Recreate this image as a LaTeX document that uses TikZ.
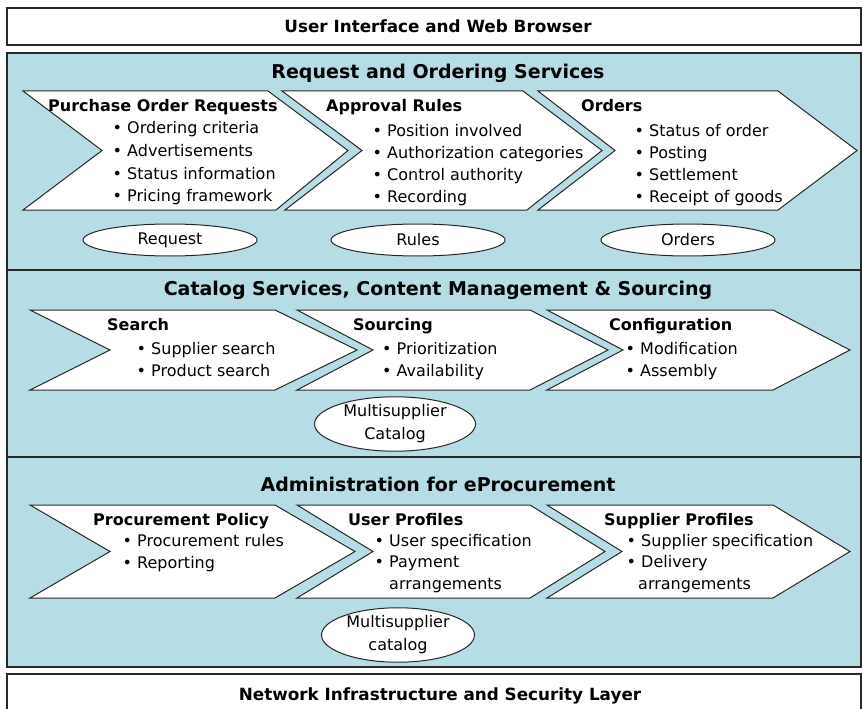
\documentclass[tikz,border=0pt]{standalone}
\usepackage{fontspec}
\setmainfont{DejaVu Sans}
\usepackage{xcolor}
\usepackage{tikz}
\usetikzlibrary{shapes.geometric}
\definecolor{panelblue}{RGB}{182,220,229}
\definecolor{linegray}{RGB}{40,40,40}

\begin{document}
\begin{tikzpicture}[x=1pt, y=-1pt,
	layer/.style={draw=linegray, line width=1.3pt},
	chev/.style={draw=linegray, fill=white, line width=1pt, line join=miter},
	bartitle/.style={anchor=base, inner sep=0pt, font=\fontsize{16.8}{18}\selectfont\bfseries},
	paneltitle/.style={anchor=base, inner sep=0pt, font=\fontsize{19}{22}\selectfont\bfseries},
	head/.style={anchor=base west, inner sep=0pt, font=\fontsize{16}{18}\selectfont\bfseries},
	item/.style={anchor=base west, inner sep=0pt, font=\fontsize{16}{18}\selectfont},
	store/.style={ellipse, draw=linegray, fill=white, line width=1pt, inner sep=0pt, align=center, font=\fontsize{16}{23}\selectfont}]
	\useasboundingbox (0,0) rectangle (863,709);
	% layers
	\draw[layer, fill=white] (7,8) rectangle (861,45);
	\draw[layer, fill=panelblue] (7,53) rectangle (861,270);
	\draw[layer, fill=panelblue] (7,270) rectangle (861,457);
	\draw[layer, fill=panelblue] (7,457) rectangle (861,667);
	\draw[layer, fill=white] (7,674) rectangle (861,714);
	\node[bartitle] (uibar) at (438,33) {User Interface and Web Browser};
	\node[bartitle] (netbar) at (440,700) {Network Infrastructure and Security Layer};
	\node[paneltitle] (ordtitle) at (438,78) {Request and Ordering Services};
	\node[paneltitle] (cattitle) at (438,295) {Catalog Services, Content Management \& Sourcing};
	\node[paneltitle] (admtitle) at (438,491) {Administration for eProcurement};

	% request and ordering
	\draw[chev] (23,91) -- (268,91) -- (348,150.5) -- (276,210) -- (23,210) -- (102,150.5) -- cycle;
	\draw[chev] (282,91) -- (523,91) -- (602,150.5) -- (527,210) -- (285,210) -- (362,150.5) -- cycle;
	\draw[chev] (538,91) -- (778,91) -- (857,150.5) -- (778,210) -- (538,210) -- (615,150.5) -- cycle;
	\node[head] (porhead) at (48,111.5) {Purchase Order Requests};
	\node[item] (por1) at (112.5,134) {\textbullet\ Ordering criteria};
	\node[item] (por2) at (112.5,156.5) {\textbullet\ Advertisements};
	\node[item] (por3) at (112.5,179) {\textbullet\ Status information};
	\node[item] (por4) at (112.5,201) {\textbullet\ Pricing framework};
	\node[head] (aprhead) at (326,111.5) {Approval Rules};
	\node[item] (apr1) at (372.5,136) {\textbullet\ Position involved};
	\node[item] (apr2) at (372.5,158) {\textbullet\ Authorization categories};
	\node[item] (apr3) at (372.5,180) {\textbullet\ Control authority};
	\node[item] (apr4) at (372.5,202) {\textbullet\ Recording};
	\node[head] (ordhead) at (581,111.5) {Orders};
	\node[item] (ord1) at (634.5,136) {\textbullet\ Status of order};
	\node[item] (ord2) at (634.5,158) {\textbullet\ Posting};
	\node[item] (ord3) at (634.5,180) {\textbullet\ Settlement};
	\node[item] (ord4) at (634.5,202) {\textbullet\ Receipt of goods};
	\node[store, minimum width=174pt, minimum height=32pt] (request) at (170,240) {Request};
	\node[store, minimum width=174pt, minimum height=32pt] (rules) at (418,240) {Rules};
	\node[store, minimum width=174pt, minimum height=32pt] (orders) at (688,240) {Orders};

	% catalog services
	\draw[chev] (30,310) -- (275,310) -- (357,350) -- (275,390) -- (30,390) -- (110,350) -- cycle;
	\draw[chev] (297,310) -- (530,310) -- (608,350) -- (530,390) -- (297,390) -- (373,350) -- cycle;
	\draw[chev] (547,310) -- (773,310) -- (850,350) -- (773,390) -- (547,390) -- (623,350) -- cycle;
	\node[head] (srchhead) at (107,330.5) {Search};
	\node[item] (srch1) at (136.5,354) {\textbullet\ Supplier search};
	\node[item] (srch2) at (136.5,376.5) {\textbullet\ Product search};
	\node[head] (srchead) at (353,330.5) {Sourcing};
	\node[item] (src1) at (382,354) {\textbullet\ Prioritization};
	\node[item] (src2) at (382,376.5) {\textbullet\ Availability};
	\node[head] (cfghead) at (609,330.5) {Configuration};
	\node[item] (cfg1) at (625.5,354) {\textbullet\ Modification};
	\node[item] (cfg2) at (625.5,376.5) {\textbullet\ Assembly};
	\node[store, minimum width=161pt, minimum height=50pt] (catalog) at (395,424) {Multisupplier\\Catalog};

	% administration
	\draw[chev] (30,505) -- (275,505) -- (355,551.5) -- (275,598) -- (30,598) -- (110,551.5) -- cycle;
	\draw[chev] (297,505) -- (530,505) -- (605,551.5) -- (530,598) -- (297,598) -- (373,551.5) -- cycle;
	\draw[chev] (547,505) -- (773,505) -- (850,551.5) -- (773,598) -- (547,598) -- (622,551.5) -- cycle;
	\node[head] (polhead) at (93,525.5) {Procurement Policy};
	\node[item] (pol1) at (122.5,546.5) {\textbullet\ Procurement rules};
	\node[item] (pol2) at (122.5,568) {\textbullet\ Reporting};
	\node[head] (usrhead) at (348,525.5) {User Profiles};
	\node[item] (usr1) at (374.5,546) {\textbullet\ User specification};
	\node[item] (usr2) at (374.5,567.5) {\textbullet\ Payment};
	\node[item] (usr3) at (389,589) {arrangements};
	\node[head] (suphead) at (604,525.5) {Supplier Profiles};
	\node[item] (sup1) at (626.5,546) {\textbullet\ Supplier specification};
	\node[item] (sup2) at (626.5,567.5) {\textbullet\ Delivery};
	\node[item] (sup3) at (638,589) {arrangements};
	\node[store, minimum width=153pt, minimum height=50pt] (catalog2) at (398,635) {Multisupplier\\catalog};
\end{tikzpicture}
\end{document}
